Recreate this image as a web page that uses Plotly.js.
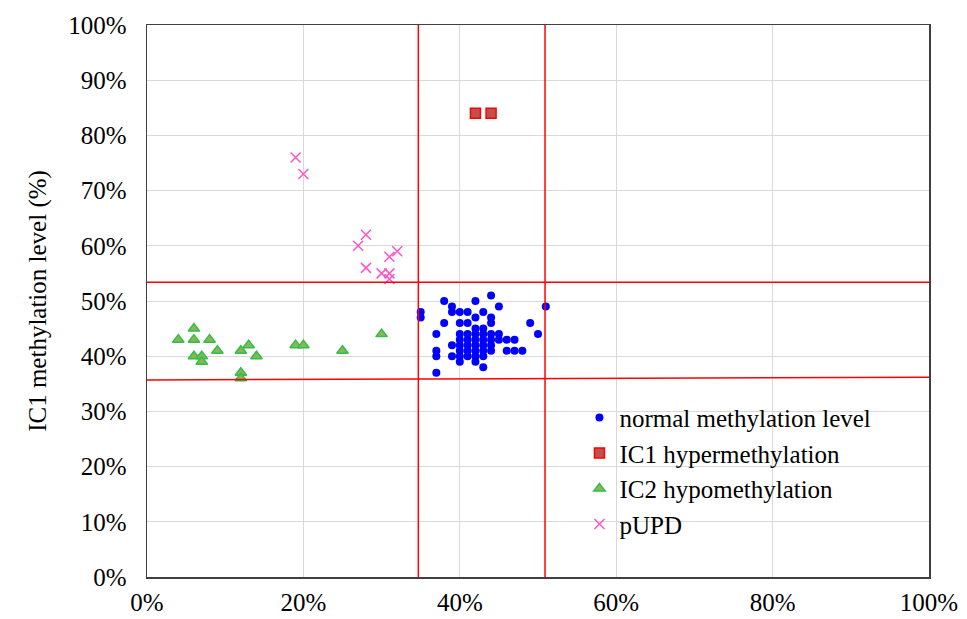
<!DOCTYPE html>
<html>
<head>
<meta charset="utf-8">
<script src="https://cdn.plot.ly/plotly-3.0.1.min.js"></script>
<style>html,body{margin:0;padding:0;background:#fff;}#chart{width:967px;height:619px;}</style>
</head>
<body>
<div id="chart"></div>
<script>
// normal methylation level (x = IC2 %, y = IC1 %)
var normalX = [35,35, 37,37,37,37, 38,38, 39,39,39,39, 40,40,40,40,40,40,40,40, 41,41,41,41,41,41,41, 42,42,42,42,42,42,42,42,42, 43,43,43,43,43,43,43,43, 44,44,44,44,44,44,44, 45,45,45, 46,46, 47,47, 48, 49, 50, 51];
var normalY = [48,47, 44,41,40,37, 50,46, 49,48,42,40, 48,46,44,43,42,41,40,39, 48,46,44,43,42,41,40, 50,47,45,44,43,42,41,40,39, 48,45,44,43,42,41,40,38, 51,47,46,44,43,42,41, 49,44,43, 43,41, 43,41, 41, 46, 44, 49];
// IC1 hypermethylation
var hyperX = [42, 44];
var hyperY = [84, 84];
// IC2 hypomethylation
var hypoX = [4, 6, 6, 8, 6, 7, 7, 9, 12, 13, 14, 12, 12, 19, 20, 25, 30];
var hypoY = [43, 45, 43, 43, 40, 40, 39, 41, 41, 42, 40, 37, 36, 42, 42, 41, 44];
// pUPD
var pupdX = [19, 20, 28, 27, 32, 31, 28, 30, 31, 31];
var pupdY = [76, 73, 62, 60, 59, 58, 56, 55, 55, 54];
// threshold lines (%)
var vThresh = [34.7, 50.9];
var hUpper = [53.4, 53.4];
var hLower = [35.7, 36.2];

var names = ['normal methylation level', 'IC1 hypermethylation', 'IC2 hypomethylation', 'pUPD'];
function pct(a){ return a.map(function(v){ return v/100; }); }

var traces = [
  {x: pct(normalX), y: pct(normalY), name: names[0], mode: 'markers', type: 'scatter',
   marker: {symbol: 'circle', size: 8, color: '#0000FF'}},
  {x: pct(hyperX), y: pct(hyperY), name: names[1], mode: 'markers', type: 'scatter',
   marker: {symbol: 'square', size: 10, color: '#C0504D', line: {color: '#FF0000', width: 1.5}}},
  {x: pct(hypoX), y: pct(hypoY), name: names[2], mode: 'markers', type: 'scatter',
   marker: {symbol: 'triangle-up', size: 10, color: '#8DB553', line: {color: '#2FBF4A', width: 1.5}}},
  {x: pct(pupdX), y: pct(pupdY), name: names[3], mode: 'markers', type: 'scatter',
   marker: {symbol: 'x-thin', size: 10, color: '#FF55CC', line: {color: '#FF55CC', width: 1.5}}}
];

var red = {color: '#FF0000', width: 1.5};
var shapes = [
  {type: 'line', xref: 'x', yref: 'y', x0: vThresh[0]/100, x1: vThresh[0]/100, y0: 0, y1: 1, line: red},
  {type: 'line', xref: 'x', yref: 'y', x0: vThresh[1]/100, x1: vThresh[1]/100, y0: 0, y1: 1, line: red},
  {type: 'line', xref: 'x', yref: 'y', x0: 0, x1: 1, y0: hUpper[0]/100, y1: hUpper[1]/100, line: red},
  {type: 'line', xref: 'x', yref: 'y', x0: 0, x1: 1, y0: hLower[0]/100, y1: hLower[1]/100, line: red}
];

var font = {family: '"Liberation Serif", "Times New Roman", serif', size: 25, color: '#000'};

var layout = {
  width: 967, height: 619,
  margin: {l: 147, r: 38, t: 25, b: 42},
  paper_bgcolor: '#fff', plot_bgcolor: '#fff',
  font: font,
  showlegend: true,
  legend: {x: 0.553, y: 0.33, xanchor: 'left', yanchor: 'top', bgcolor: 'rgba(0,0,0,0)',
           font: font, tracegroupgap: 0, itemsizing: 'trace'},
  xaxis: {range: [0, 1], tickvals: [0, 0.2, 0.4, 0.6, 0.8, 1], tickformat: '.0%',
          showgrid: true, gridcolor: '#D9D9D9', gridwidth: 1, zeroline: false,
          showline: true, mirror: true, linecolor: '#404040', linewidth: 1.5,
          ticks: '', tickfont: font, fixedrange: true, ticklabelstandoff: 2},
  yaxis: {range: [0, 1], dtick: 0.1, tickformat: '.0%',
          showgrid: true, gridcolor: '#D9D9D9', gridwidth: 1, zeroline: false,
          showline: true, mirror: true, linecolor: '#404040', linewidth: 1.5,
          ticks: '', tickfont: font, fixedrange: true, ticklabelstandoff: 14,
          title: {text: 'IC1 methylation level (%)', font: font, standoff: 14}},
  shapes: shapes
};

Plotly.newPlot('chart', traces, layout, {displayModeBar: false, staticPlot: true});
</script>
</body>
</html>
